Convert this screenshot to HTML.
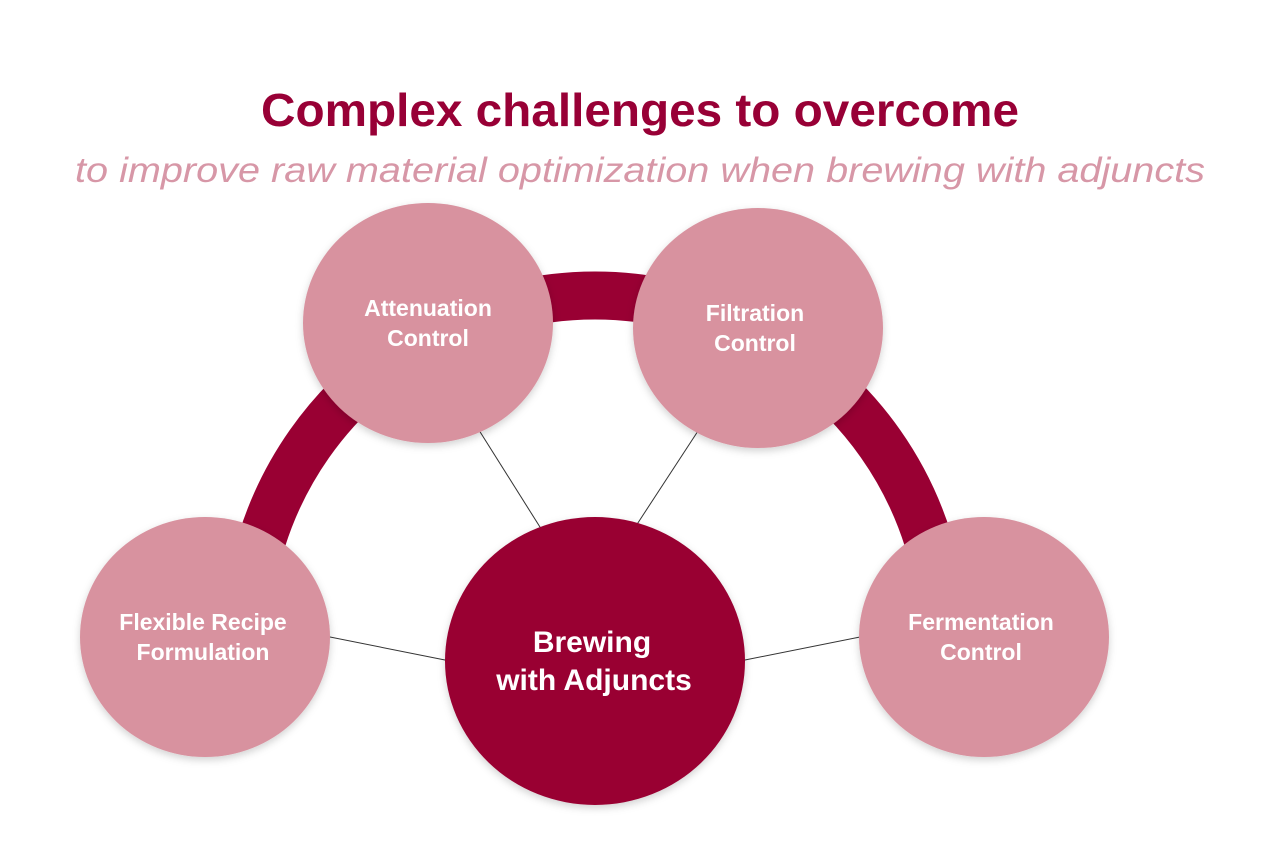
<!DOCTYPE html>
<html><head><meta charset="utf-8"><style>
html,body{margin:0;padding:0;background:#fff;}
svg{display:block;}
</style></head><body>
<svg width="1280" height="848" viewBox="0 0 1280 848" xmlns="http://www.w3.org/2000/svg">
<defs>
<filter id="sh" x="-20%" y="-20%" width="140%" height="140%"><feDropShadow dx="0" dy="3" stdDeviation="4" flood-color="#000" flood-opacity="0.18"/></filter>
</defs>
<text x="640" y="126" text-anchor="middle" font-family="Liberation Sans, sans-serif" font-weight="bold" font-size="46" fill="#980036" textLength="758" lengthAdjust="spacingAndGlyphs">Complex challenges to overcome</text>
<text x="640" y="182" text-anchor="middle" font-family="Liberation Sans, sans-serif" font-style="italic" font-size="35" fill="#d797a7" textLength="1130" lengthAdjust="spacingAndGlyphs">to improve raw material optimization when brewing with adjuncts</text>
<path d="M 262 540 A 349 349 0 0 1 928 540" fill="none" stroke="#990033" stroke-width="48"/>
<g stroke="#333" stroke-width="1">
<line x1="460" y1="400" x2="545" y2="535"/>
<line x1="715" y1="405" x2="630" y2="535"/>
<line x1="300" y1="631" x2="460" y2="663"/>
<line x1="890" y1="631" x2="730" y2="663"/>
</g>
<g fill="#d8929f" filter="url(#sh)">
<ellipse cx="428" cy="323" rx="125" ry="120"/>
<ellipse cx="758" cy="328" rx="125" ry="120"/>
<ellipse cx="205" cy="637" rx="125" ry="120"/>
<ellipse cx="984" cy="637" rx="125" ry="120"/>
</g>
<ellipse cx="595" cy="661" rx="150" ry="144" fill="#990033" filter="url(#sh)"/>
<g font-family="Liberation Sans, sans-serif" font-weight="bold" font-size="23" fill="#fff" text-anchor="middle">
<text x="428" y="316">Attenuation</text><text x="428" y="346">Control</text>
<text x="755" y="321">Filtration</text><text x="755" y="351">Control</text>
<text x="203" y="630">Flexible Recipe</text><text x="203" y="660">Formulation</text>
<text x="981" y="630">Fermentation</text><text x="981" y="660">Control</text>
</g>
<g font-family="Liberation Sans, sans-serif" font-weight="bold" font-size="30" fill="#fff" text-anchor="middle">
<text x="592" y="652">Brewing</text><text x="594" y="690">with Adjuncts</text>
</g>
</svg>
</body></html>
